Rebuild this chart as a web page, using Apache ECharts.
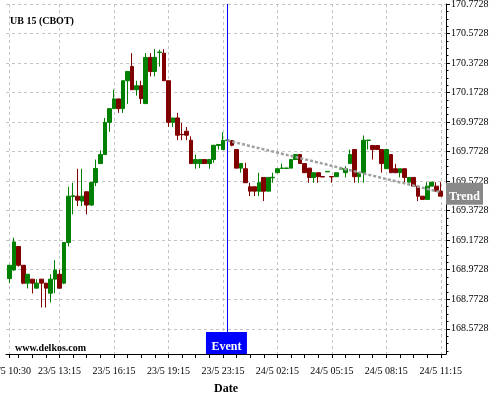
<!DOCTYPE html>
<html>
<head>
<meta charset="utf-8">
<script src="https://cdn.jsdelivr.net/npm/echarts@6/dist/echarts.min.js"></script>
<style>
html, body { margin: 0; padding: 0; background: #fff; }
#chart { width: 500px; height: 400px; }
</style>
</head>
<body>
<div id="chart"></div>
<script>
// tick labels
var xLabels = ['23/5 10:30', '23/5 13:15', '23/5 16:15', '23/5 19:15', '23/5 23:15',
               '24/5 02:15', '24/5 05:15', '24/5 08:15', '24/5 11:15'];
var labelSlots = [0, 11, 23, 35, 47, 59, 71, 83, 95];   // 15 min bars, index of each label
var yLabels = [168.5728, 168.7728, 168.9728, 169.1728, 169.3728, 169.5728,
               169.7728, 169.9728, 170.1728, 170.3728, 170.5728, 170.7728];

// event + trend
var eventSlot = 48;
var trend = [[48, 169.848], [95, 169.498]];

// candles: [open, close, low, high]
var ohlc = [
  [168.913, 169.003, 168.882, 169.003], [168.971, 169.161, 168.965, 169.190],
  [169.130, 169.003, 168.994, 169.130], [169.003, 168.882, 168.875, 169.003],
  [168.882, 168.942, 168.846, 168.942], [168.909, 168.882, 168.812, 168.909],
  [168.848, 168.882, 168.848, 168.909], [168.909, 168.882, 168.717, 168.909],
  [168.882, 168.848, 168.717, 168.882], [168.814, 168.909, 168.751, 168.942],
  [168.909, 168.971, 168.814, 169.037], [168.942, 168.848, 168.848, 168.971],
  [168.882, 169.157, 168.875, 169.157], [169.157, 169.471, 169.130, 169.535],
  [169.469, 169.474, 169.348, 169.562], [169.471, 169.444, 169.404, 169.657],
  [169.438, 169.471, 169.404, 169.657], [169.501, 169.411, 169.348, 169.501],
  [169.411, 169.564, 169.404, 169.564], [169.564, 169.659, 169.539, 169.719],
  [169.692, 169.753, 169.692, 169.782], [169.753, 169.971, 169.753, 170.001],
  [169.971, 170.064, 169.907, 170.064], [170.064, 170.130, 170.064, 170.192],
  [170.130, 170.064, 170.035, 170.130], [170.064, 170.253, 170.035, 170.253],
  [170.253, 170.316, 170.096, 170.316], [170.350, 170.192, 170.192, 170.440],
  [170.192, 170.219, 170.152, 170.253], [170.219, 170.132, 170.096, 170.253],
  [170.098, 170.411, 170.098, 170.440], [170.411, 170.316, 170.282, 170.440],
  [170.316, 170.411, 170.282, 170.467], [170.444, 170.447, 170.348, 170.463],
  [170.440, 170.253, 170.253, 170.467], [170.253, 169.971, 169.940, 170.253],
  [169.971, 170.001, 169.940, 170.001], [170.001, 169.884, 169.850, 170.035],
  [169.890, 169.887, 169.850, 169.967], [169.911, 169.884, 169.850, 169.940],
  [169.850, 169.692, 169.692, 169.877], [169.692, 169.719, 169.657, 169.753],
  [169.692, 169.719, 169.661, 169.719], [169.719, 169.692, 169.692, 169.719],
  [169.692, 169.719, 169.657, 169.719], [169.719, 169.816, 169.697, 169.816],
  [169.814, 169.821, 169.787, 169.821], [169.787, 169.848, 169.787, 169.904],
  [169.849, 169.851, 169.849, 169.851], [169.848, 169.816, 169.809, 169.848],
  [169.787, 169.661, 169.661, 169.787], [169.661, 169.692, 169.630, 169.692],
  [169.657, 169.562, 169.562, 169.697], [169.535, 169.505, 169.471, 169.562],
  [169.535, 169.505, 169.471, 169.535], [169.505, 169.562, 169.471, 169.630],
  [169.598, 169.505, 169.438, 169.598], [169.505, 169.598, 169.505, 169.598],
  [169.596, 169.599, 169.562, 169.630], [169.630, 169.657, 169.630, 169.657],
  [169.659, 169.662, 169.659, 169.692], [169.659, 169.662, 169.659, 169.662],
  [169.661, 169.719, 169.661, 169.719], [169.719, 169.753, 169.719, 169.753],
  [169.753, 169.692, 169.692, 169.753], [169.692, 169.630, 169.630, 169.692],
  [169.661, 169.598, 169.562, 169.661], [169.598, 169.630, 169.562, 169.630],
  [169.630, 169.603, 169.562, 169.630], [169.604, 169.601, 169.601, 169.604],
  [169.636, 169.639, 169.636, 169.639], [169.604, 169.601, 169.562, 169.604],
  [169.603, 169.630, 169.603, 169.630], [169.654, 169.661, 169.654, 169.661],
  [169.630, 169.657, 169.598, 169.674], [169.692, 169.753, 169.692, 169.787],
  [169.787, 169.603, 169.562, 169.787], [169.603, 169.630, 169.562, 169.630],
  [169.630, 169.850, 169.562, 169.882], [169.848, 169.851, 169.787, 169.851],
  [169.814, 169.787, 169.719, 169.814], [169.814, 169.787, 169.787, 169.814],
  [169.787, 169.692, 169.630, 169.787], [169.657, 169.787, 169.657, 169.787],
  [169.753, 169.630, 169.630, 169.753], [169.657, 169.630, 169.630, 169.690],
  [169.630, 169.657, 169.598, 169.657], [169.657, 169.598, 169.562, 169.657],
  [169.566, 169.598, 169.566, 169.598], [169.598, 169.539, 169.539, 169.598],
  [169.539, 169.471, 169.438, 169.539], [169.471, 169.449, 169.449, 169.471],
  [169.449, 169.539, 169.449, 169.566], [169.539, 169.566, 169.539, 169.566],
  [169.539, 169.505, 169.505, 169.566], [169.505, 169.471, 169.471, 169.566]
];

var FONT = 'Liberation Serif';
var xMin = -0.79, xMax = 96.15;
var yMin = 168.402, yMax = 170.7728;

// x ticks every 3 bars (45 min), minor y ticks every 0.05
var xTicks = [0];
for (var s = 2; s <= 95; s += 3) xTicks.push(s);
var yMinor = [];
for (var k = 0; k < 48; k++) yMinor.push(+(168.4228 + k * 0.05).toFixed(4));

var gridLine = { show: true, lineStyle: { color: '#c4c4c4', width: 1, type: [3, 3] } };

var chart = echarts.init(document.getElementById('chart'), null, { renderer: 'canvas' });

chart.setOption({
  animation: false,
  backgroundColor: '#fff',
  title: {
    text: 'UB 15 (CBOT)', left: 10, top: 16, padding: 0,
    textStyle: { fontFamily: FONT, fontSize: 10, fontWeight: 'bold', color: '#000' }
  },
  grid: { left: 6, right: 54, top: 4, bottom: 46, containLabel: false, outerBoundsMode: 'none' },
  xAxis: [{
    type: 'value', min: xMin, max: xMax, position: 'bottom',
    axisLine: { show: true, onZero: false, lineStyle: { color: '#000', width: 1 } },
    axisTick: { show: true, length: 4, customValues: xTicks, lineStyle: { color: '#000' } },
    axisLabel: {
      customValues: labelSlots, margin: 12, color: '#000', fontFamily: FONT, fontSize: 10,
      formatter: function (v) { return xLabels[labelSlots.indexOf(v)]; }
    },
    splitLine: { show: false },
    name: 'Date', nameLocation: 'middle', nameGap: 29,
    nameTextStyle: { fontFamily: FONT, fontSize: 12, fontWeight: 'bold', color: '#000' }
  }, {
    // only for the vertical grid lines at label positions
    type: 'value', min: xMin, max: xMax, position: 'top',
    axisLine: { show: false }, axisLabel: { show: false },
    axisTick: { show: false, customValues: labelSlots },
    splitLine: gridLine
  }],
  yAxis: [{
    type: 'value', min: yMin, max: yMax, position: 'right',
    axisLine: { show: true, onZero: false, lineStyle: { color: '#000', width: 1 } },
    axisTick: { show: true, length: 4, customValues: yLabels, lineStyle: { color: '#000' } },
    axisLabel: {
      customValues: yLabels, margin: 5, color: '#000', fontFamily: FONT, fontSize: 10,
      padding: [5, 0, 0, 0],
      formatter: function (v) { return v.toFixed(4); }
    },
    splitLine: gridLine
  }, {
    // minor ticks on the right axis
    type: 'value', min: yMin, max: yMax, position: 'left', offset: -440,
    axisLine: { show: false, onZero: false }, axisLabel: { show: false },
    axisTick: { show: true, inside: true, length: 2.5, customValues: yMinor, lineStyle: { color: '#000' } },
    splitLine: { show: false }
  }],
  series: [{
    type: 'candlestick',
    xAxisIndex: 0, yAxisIndex: 0,
    data: ohlc.map(function (d, i) { return [i, d[0], d[1], d[2], d[3]]; }),
    encode: { x: 0, y: [1, 2, 3, 4] },
    barWidth: 4.2,
    itemStyle: {
      color: '#008000', color0: '#800000',
      borderColor: '#008000', borderColor0: '#800000', borderWidth: 1
    },
    silent: true,
    markLine: {
      silent: true, animation: false, symbol: ['none', 'none'],
      label: { show: false },
      lineStyle: { color: '#0000ff', width: 1, type: 'solid' },
      emphasis: { disabled: true },
      data: [{ xAxis: eventSlot }]
    }
  }, {
    type: 'line',
    xAxisIndex: 0, yAxisIndex: 0,
    data: trend,
    symbol: 'none', silent: true, z: 5,
    lineStyle: { color: '#a0a0a0', width: 2.5, type: [3, 2] }
  }]
});

// Event and Trend boxes, anchored through the axes
var ev = chart.convertToPixel({ xAxisIndex: 0, yAxisIndex: 0 }, [eventSlot, yMin]);
var tr = chart.convertToPixel({ xAxisIndex: 0, yAxisIndex: 0 }, trend[1]);
var rightEdge = chart.convertToPixel({ xAxisIndex: 0 }, xMax);

chart.setOption({
  graphic: [
    { type: 'rect', z: 100, shape: { x: ev[0] - 21.5, y: ev[1] - 22, width: 41, height: 22 },
      style: { fill: '#0000ff' } },
    { type: 'text', z: 101, x: ev[0] - 1, y: ev[1] - 7.5,
      style: { text: 'Event', fill: '#fff', font: 'bold 12px "Liberation Serif"', align: 'center', verticalAlign: 'middle' } },
    { type: 'rect', z: 100, shape: { x: rightEdge, y: tr[1] - 9.5, width: 37, height: 22 },
      style: { fill: '#888888' } },
    { type: 'text', z: 101, x: rightEdge + 18.5, y: tr[1] + 5,
      style: { text: 'Trend', fill: '#fff', font: 'bold 12px "Liberation Serif"', align: 'center', verticalAlign: 'middle' } },
    { type: 'text', z: 101, x: 15, y: 348.5,
      style: { text: 'www.delkos.com', fill: '#000', font: 'bold 10px "Liberation Serif"', align: 'left', verticalAlign: 'middle' } }
  ]
});
</script>
</body>
</html>
